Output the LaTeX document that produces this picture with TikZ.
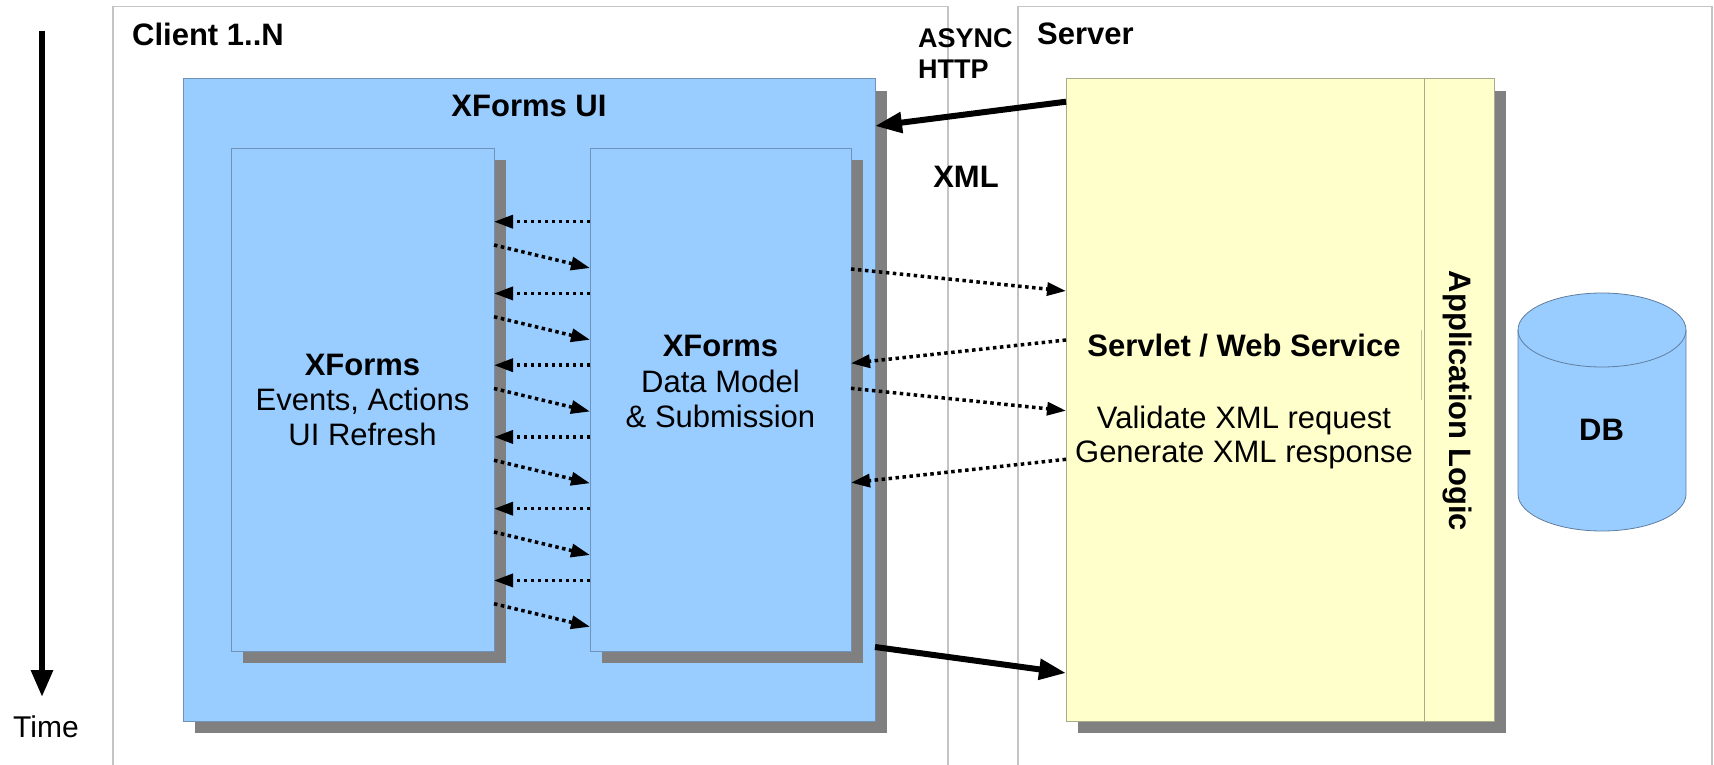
\documentclass[tikz,border=0pt]{standalone}
\usepackage{fontspec}
\setmainfont{Liberation Sans}
\usetikzlibrary{arrows.meta,shadows}
\definecolor{uiblue}{HTML}{99CCFF}
\definecolor{uiborder}{HTML}{7092B8}
\definecolor{srvyellow}{HTML}{FFFFCC}
\definecolor{srvborder}{HTML}{A9A98C}
\definecolor{shadowgray}{HTML}{808080}
\definecolor{framegray}{HTML}{C4C4C4}
\definecolor{dbborder}{HTML}{5F7F9F}
\begin{document}
\begin{tikzpicture}[x=1pt,y=-1pt,
  frame/.style={draw=framegray, line width=1.5pt, anchor=north west, inner sep=0pt, outer sep=0pt},
  uibox/.style={draw=uiborder, line width=1pt, fill=uiblue, anchor=north west, inner sep=0pt, outer sep=0pt,
     general shadow={shadow xshift=12pt, shadow yshift=-12pt, fill=shadowgray}},
  srvbox/.style={draw=srvborder, line width=1pt, fill=srvyellow, anchor=north west, inner sep=0pt, outer sep=0pt,
     general shadow={shadow xshift=12pt, shadow yshift=-12pt, fill=shadowgray}},
  txt/.style={font=\fontsize{31}{35}\selectfont, inner sep=0pt, anchor=base},
  btxt/.style={font=\fontsize{31}{35}\selectfont\bfseries, inner sep=0pt, anchor=base},
  dotarrow/.style={line width=3.5pt, dash pattern=on 3.5pt off 3.5pt, -{Triangle[length=19pt,width=13pt]}},
  bigarrow/.style={line width=6pt, -{Triangle[length=27pt,width=20pt]}}
]
\useasboundingbox (0,0) rectangle (1714,765);
\fill[white] (0,0) rectangle (1714,765);

% outer frames
\node[frame, minimum width=835pt, minimum height=800pt] (client) at (113,6.5) {};
\node[frame, minimum width=694pt, minimum height=800pt] (server) at (1018,6.5) {};
\node[btxt, anchor=base west] (clientlbl) at (132,46) {Client 1..N};
\node[btxt, anchor=base west] (serverlbl) at (1037,45) {Server};
\node[btxt, anchor=base west, font=\fontsize{27}{31}\selectfont\bfseries] (async) at (918,48) {ASYNC};
\node[btxt, anchor=base west, font=\fontsize{27}{31}\selectfont\bfseries] (http) at (918,79) {HTTP};
\node[btxt] (xml) at (966,187) {XML};

% time arrow
\coordinate (t0) at (42,31);
\coordinate (t1) at (42,697);
\draw[line width=6pt, -{Triangle[length=27pt,width=21pt]}] (t0) -- (t1);
\node[txt, font=\fontsize{30}{34}\selectfont] (time) at (46,737) {Time};

% client UI
\node[uibox, minimum width=692pt, minimum height=642pt] (ui) at (183,79) {};
\node[btxt] (uilbl) at (529,117) {XForms UI};
\node[uibox, minimum width=263pt, minimum height=502pt,
      general shadow={shadow xshift=11.5pt, shadow yshift=-11.5pt, fill=shadowgray}] (L) at (231,149) {};
\node[uibox, minimum width=261pt, minimum height=502pt,
      general shadow={shadow xshift=11.5pt, shadow yshift=-11.5pt, fill=shadowgray}] (R) at (590,149) {};

\node[btxt] (l1) at (362.5,375) {XForms};
\node[txt] (l2) at (362.5,410) {Events, Actions};
\node[txt] (l3) at (362.5,445) {UI Refresh};
\node[btxt] (r1) at (720.5,356.7) {XForms};
\node[txt] (r2) at (720.5,392.3) {Data Model};
\node[txt] (r3) at (720.5,427.7) {\& Submission};

% server
\node[srvbox, minimum width=428pt, minimum height=642pt] (srv) at (1066,79) {};
\coordinate (dv) at (1424,0);
\draw[srvborder, line width=1pt] (srv.north -| dv) -- (srv.south -| dv);
\draw[srvborder!70, line width=1.5pt] (1421.5,330) -- (1421.5,400);
\node[btxt] (s1) at (1244,356.7) {Servlet / Web Service};
\node[txt] (s2) at (1244,428.3) {Validate XML request};
\node[txt] (s3) at (1244,462.7) {Generate XML response};
\node[btxt, anchor=center, rotate=-90] (applogic) at (1457,401) {Application Logic};

% DB cylinder
\path[fill=uiblue, draw=dbborder, line width=0.8pt]
  (1518,330) -- (1518,494) arc[start angle=180, end angle=360, x radius=84pt, y radius=37pt]
  -- (1686,330) arc[start angle=0, end angle=180, x radius=84pt, y radius=37pt] -- cycle;
\draw[dbborder, line width=0.8pt] (1518,330) arc[start angle=180, end angle=360, x radius=84pt, y radius=37pt];
\node[btxt] (db) at (1601.5,440.7) {DB};

% internal dotted arrows
\foreach \k in {0,...,5} {
  \pgfmathsetmacro\ya{221.7+71.75*\k}
  \pgfmathsetmacro\yb{245+71.75*\k}
  \pgfmathsetmacro\yc{268+71.75*\k}
  \draw[dotarrow] (R.west |- 0,\ya) -- (L.east |- 0,\ya);
  \draw[dotarrow] (L.east |- 0,\yb) -- (R.west |- 0,\yc);
}

% dotted arrows to/from server
\draw[dotarrow] (R.east |- 0,269) -- (srv.west |- 0,291);
\draw[dotarrow] (srv.west |- 0,340) -- (R.east |- 0,363.3);
\draw[dotarrow] (R.east |- 0,388.3) -- (srv.west |- 0,410.7);
\draw[dotarrow] (srv.west |- 0,459.3) -- (R.east |- 0,482.7);

% thick arrows
\draw[bigarrow] (srv.west |- 0,101.7) -- (ui.east |- 0,126);
\draw[bigarrow] (ui.east |- 0,647) -- (srv.west |- 0,673);
\end{tikzpicture}
\end{document}
